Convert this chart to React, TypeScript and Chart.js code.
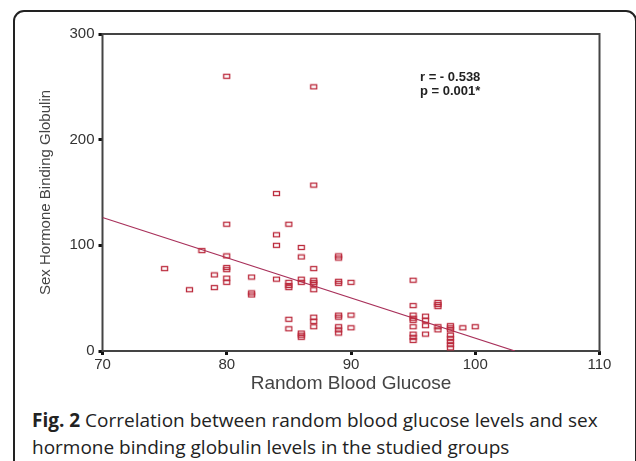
import React, { useEffect, useRef } from "react";
import { Chart, registerables } from "chart.js";

Chart.register(...registerables);

// Random blood glucose (x) and SHBG (y) for each subject
const glucose = [
  75, 77, 78, 79, 79,
  80, 80, 80, 80, 80, 80, 80,
  82, 82, 82,
  84, 84, 84, 84,
  85, 85, 85, 85, 85, 85,
  86, 86, 86, 86, 86, 86, 86,
  87, 87, 87, 87, 87, 87, 87, 87, 87, 87,
  89, 89, 89, 89, 89, 89, 89, 89, 89,
  90, 90, 90,
  95, 95, 95, 95, 95, 95, 95, 95, 95,
  96, 96, 96, 96,
  97, 97, 97, 97, 97,
  98, 98, 98, 98, 98, 98, 98, 98,
  99, 100,
];
const shbg = [
  78, 58, 95, 72, 60,
  260, 120, 90, 79, 77, 69, 65,
  70, 55, 53,
  149, 110, 100, 68,
  120, 65, 62, 60, 30, 21,
  98, 89, 68, 65, 17, 15, 13,
  250, 157, 78, 67, 65, 63, 58, 32, 28, 23,
  90, 88, 66, 64, 34, 32, 23, 20, 17,
  65, 34, 22,
  67, 43, 34, 31, 29, 23, 16, 13, 10,
  33, 29, 24, 16,
  46, 44, 42, 23, 20,
  24, 22, 20, 15, 12, 9, 6, 3,
  22, 23,
];

// Fitted regression line endpoints
const fitX = [70, 103.2];
const fitY = [126.3, 0];

const xTicks = [70, 80, 90, 100, 110];
const yTicks = [0, 100, 200, 300];
const statLines = ["r = - 0.538", "p = 0.001*"];

const SANS = "Arial, 'Liberation Sans', Helvetica, sans-serif";

export default function App() {
  const ref = useRef<HTMLCanvasElement | null>(null);

  useEffect(() => {
    document.body.style.margin = "0";
    const canvas = ref.current;
    if (!canvas) return;

    const marker = document.createElement("canvas");
    marker.width = 9;
    marker.height = 7;
    const mctx = marker.getContext("2d")!;
    mctx.strokeStyle = "#bb2a3c";
    mctx.lineWidth = 1.3;
    mctx.strokeRect(1.5, 1.5, 6, 4);

    const frame = {
      id: "frame",
      beforeDatasetsDraw(chart: any) {
        const { ctx, chartArea: a } = chart;
        ctx.save();
        ctx.strokeStyle = "#444";
        ctx.lineWidth = 2;
        ctx.strokeRect(a.left, a.top, a.right - a.left, a.bottom - a.top);
        ctx.restore();
      },
      afterDraw(chart: any) {
        const { ctx } = chart;
        ctx.save();
        ctx.fillStyle = "#222";
        ctx.font = "bold 13px " + SANS;
        ctx.textBaseline = "middle";
        ctx.textAlign = "left";
        ctx.fillText(statLines[0], 420, 77);
        ctx.fillText(statLines[1], 420, 91);
        ctx.restore();
      },
    };

    const points = glucose.map((g, i) => ({ x: g, y: shbg[i] }));
    const fit = fitX.map((g, i) => ({ x: g, y: fitY[i] }));

    const chart = new Chart(canvas, {
      type: "scatter",
      data: {
        datasets: [
          {
            data: points,
            pointStyle: marker as any,
            pointRadius: 4,
            order: 1,
          },
          {
            data: fit,
            showLine: true,
            borderColor: "#a8305a",
            borderWidth: 1.2,
            pointRadius: 0,
            order: 2,
          },
        ],
      },
      options: {
        responsive: false,
        animation: false,
        layout: { padding: { top: 34, right: 36.5, left: 0, bottom: 0 } },
        plugins: { legend: { display: false }, tooltip: { enabled: false } },
        scales: {
          x: {
            type: "linear",
            min: 70,
            max: 110,
            afterBuildTicks: (s: any) => {
              s.ticks = xTicks.map((v) => ({ value: v }));
            },
            afterFit: (s: any) => {
              s.height = 49;
            },
            ticks: {
              color: "#333",
              padding: 1,
              font: { size: 15, family: SANS },
            },
            grid: {
              drawOnChartArea: false,
              drawTicks: true,
              tickLength: 4,
              tickWidth: 3,
              tickColor: "#111",
            },
            border: { display: false },
            title: {
              display: true,
              text: "Random Blood Glucose",
              color: "#444",
              font: { size: 19, family: SANS },
              padding: { top: 0, bottom: 5 },
            },
          },
          y: {
            type: "linear",
            min: 0,
            max: 300,
            afterBuildTicks: (s: any) => {
              s.ticks = yTicks.map((v) => ({ value: v }));
            },
            afterFit: (s: any) => {
              s.width = 102.5;
            },
            ticks: {
              color: "#333",
              padding: 4,
              font: { size: 15, family: SANS },
            },
            grid: {
              drawOnChartArea: false,
              drawTicks: true,
              tickLength: 4,
              tickWidth: 3,
              tickColor: "#111",
            },
            border: { display: false },
            title: {
              display: true,
              text: "Sex Hormone Binding Globulin",
              color: "#444",
              font: { size: 15, family: SANS },
              padding: { top: 37, bottom: 0 },
            },
          },
        },
      },
      plugins: [frame],
    });

    return () => chart.destroy();
  }, []);

  return (
    <div style={{ position: "relative", width: 636, height: 461, overflow: "hidden", background: "#fff" }}>
      <div
        style={{
          position: "absolute",
          left: 13,
          top: 10,
          width: 624,
          height: 470,
          boxSizing: "border-box",
          border: "2px solid #222",
          borderRadius: 11,
        }}
      />
      <canvas ref={ref} width={636} height={400} style={{ position: "absolute", left: 0, top: 0 }} />
      <div
        style={{
          position: "absolute",
          left: 32,
          top: 407,
          width: 596,
          fontFamily: "'Open Sans', sans-serif",
          fontSize: 19,
          lineHeight: "27px",
          color: "#222",
        }}
      >
        <b>Fig. 2</b> Correlation between random blood glucose levels and sex hormone binding globulin levels in the studied groups
      </div>
    </div>
  );
}
